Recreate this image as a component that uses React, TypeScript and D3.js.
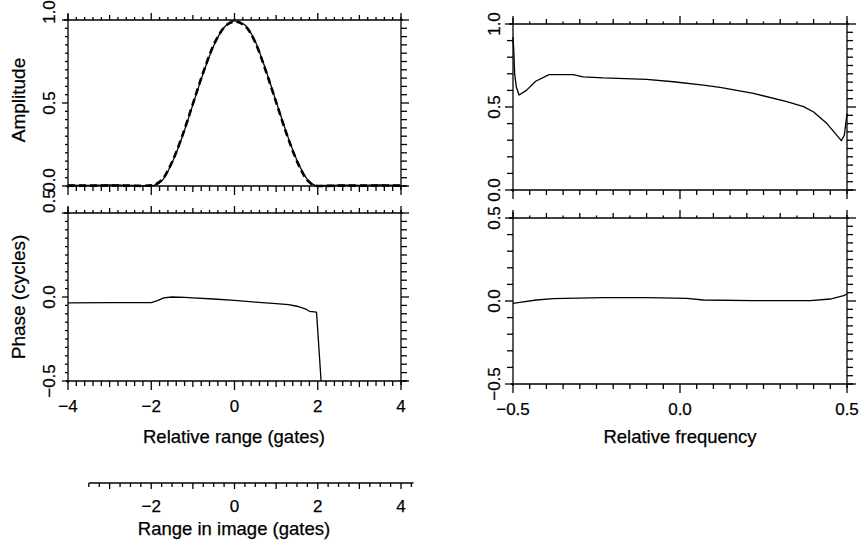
import React from "react";
import * as d3 from "d3";

// ---------- data ----------
const rangeX = [-4, -3.5, -3, -2.5, -2.2, -2, -1.75, -1.5, -1.25, -1, -0.75, -0.5, -0.25, 0, 0.25, 0.5, 0.75, 1, 1.25, 1.5, 1.75, 2, 2.25, 2.5, 3, 3.5, 4];
const ampSolid = [0.005, 0.004, 0.006, 0.004, 0.002, 0.002, 0.03, 0.14, 0.3, 0.49, 0.68, 0.845, 0.955, 0.995, 0.97, 0.87, 0.7, 0.51, 0.32, 0.155, 0.04, 0.002, 0.003, 0.005, 0.004, 0.006, 0.003];
const ampDashed = [0.002, 0.002, 0.003, 0.002, 0.001, 0.004, 0.035, 0.145, 0.305, 0.495, 0.685, 0.85, 0.955, 0.99, 0.965, 0.865, 0.695, 0.505, 0.315, 0.15, 0.035, 0.0, 0.001, 0.002, 0.002, 0.003, 0.002];

const phaseX = [-4, -3, -2.5, -2, -1.85, -1.7, -1.5, -1.2, -1, -0.5, 0, 0.5, 1, 1.3, 1.5, 1.7, 1.8, 1.97, 2.0, 2.08];
const phaseY = [-0.035, -0.034, -0.034, -0.034, -0.022, -0.005, 0.0, -0.002, -0.005, -0.012, -0.02, -0.03, -0.04, -0.045, -0.055, -0.07, -0.085, -0.09, -0.2, -0.5];

const freqX = [-0.5, -0.498, -0.495, -0.49, -0.482, -0.46, -0.432, -0.392, -0.32, -0.29, -0.23, -0.1, -0.02, 0.07, 0.12, 0.22, 0.32, 0.37, 0.4, 0.44, 0.483, 0.492, 0.5];
const specAmp = [0.92, 0.85, 0.7, 0.62, 0.572, 0.6, 0.655, 0.695, 0.695, 0.682, 0.675, 0.667, 0.652, 0.632, 0.618, 0.582, 0.532, 0.502, 0.47, 0.4, 0.297, 0.33, 0.46];

const freqPhX = [-0.5, -0.48, -0.43, -0.38, -0.23, -0.1, 0.02, 0.07, 0.22, 0.39, 0.45, 0.49, 0.5];
const specPhase = [-0.014, -0.008, 0.006, 0.014, 0.02, 0.02, 0.016, 0.006, 0.002, 0.002, 0.012, 0.032, 0.042];

const rangeTickLabels = [-4, -2, 0, 2, 4];
const imageTickLabels = [-2, 0, 2, 4];
const freqTickLabels = [-0.5, 0.0, 0.5];
const ampTickLabels = [0, 0.5, 1];
const phaseTickLabels = [-0.5, 0, 0.5];

// ---------- helpers ----------
const FONT = "'Liberation Sans', Arial, sans-serif";
type Rule = [number, number];
type TickSpec = { step: number; base: number; rules: Rule[] };
const isMult = (v: number, m: number) => Math.abs(v / m - Math.round(v / m)) < 1e-6;
const tickVals = (lo: number, hi: number, step: number) =>
  d3.range(Math.round(lo / step), Math.round(hi / step) + 1).map((i) => +(i * step).toFixed(6));
const tickLen = (v: number, s: TickSpec) => {
  let l = s.base;
  for (const [m, len] of s.rules) if (isMult(v, m)) l = Math.max(l, len);
  return l;
};

type Series = { xs: number[]; ys: number[]; width: number; dash?: string; smooth?: boolean };

function Panel(props: {
  x0: number; x1: number; y0: number; y1: number;
  xDom: [number, number]; yDom: [number, number];
  top: TickSpec; bottom: TickSpec; left: TickSpec; right: TickSpec;
  series: Series[];
  yLabels: number[]; yFmt: (v: number) => string;
  topShift?: number; topStart?: boolean; bottomShift?: number;
  xLabels?: number[]; xFmt?: (v: number) => string;
}) {
  const p = props;
  const x = d3.scaleLinear().domain(p.xDom).range([p.x0, p.x1]);
  const y = d3.scaleLinear().domain(p.yDom).range([p.y1, p.y0]);
  const xt = tickVals(p.xDom[0], p.xDom[1], p.top.step);
  const xb = tickVals(p.xDom[0], p.xDom[1], p.bottom.step);
  const yl = tickVals(p.yDom[0], p.yDom[1], p.left.step);
  const yr = tickVals(p.yDom[0], p.yDom[1], p.right.step);
  return (
    <g stroke="#000" fill="none" strokeWidth={1.3}>
      <line x1={p.x0 - 4} x2={p.x1 + 2} y1={p.y0} y2={p.y0} />
      <line x1={p.x0 - 2} x2={p.x1 + 6} y1={p.y1} y2={p.y1} />
      <line x1={p.x0} x2={p.x0} y1={p.y0 - 6} y2={p.y1 + 2} />
      <line x1={p.x1} x2={p.x1} y1={p.y0 - 3} y2={p.y1 + 4} />
      {xt.map((v) => (
        <line key={"t" + v} x1={x(v)} x2={x(v)} y1={p.y0} y2={p.y0 - tickLen(v, p.top)} />
      ))}
      {xb.map((v) => (
        <line key={"b" + v} x1={x(v)} x2={x(v)} y1={p.y1} y2={p.y1 + tickLen(v, p.bottom)} />
      ))}
      {yl.map((v) => (
        <line key={"l" + v} x1={p.x0} x2={p.x0 - tickLen(v, p.left)} y1={y(v)} y2={y(v)} />
      ))}
      {yr.map((v) => (
        <line key={"r" + v} x1={p.x1} x2={p.x1 + tickLen(v, p.right)} y1={y(v)} y2={y(v)} />
      ))}
      {p.series.map((s, i) => {
        const line = d3
          .line<[number, number]>()
          .x((d) => x(d[0]))
          .y((d) => y(d[1]))
          .curve(s.smooth ? d3.curveMonotoneX : d3.curveLinear);
        return (
          <path
            key={"s" + i}
            d={line(s.xs.map((xv, j) => [xv, s.ys[j]] as [number, number])) || ""}
            strokeWidth={s.width}
            strokeDasharray={s.dash}
            strokeLinejoin="round"
          />
        );
      })}
      <g stroke="#000" strokeWidth={0.25} fill="#000" fontFamily={FONT} fontSize={17}>
        {p.yLabels.map((v, i) => {
          const isTop = i === p.yLabels.length - 1;
          const isBottom = i === 0;
          let yy = y(v);
          if (isTop && p.topShift) yy -= p.topShift;
          if (isBottom && p.bottomShift) yy -= p.bottomShift;
          return (
            <text
              key={"yl" + v}
              transform={`translate(${p.x0 - 13},${yy}) rotate(-90)`}
              textAnchor={isTop && p.topStart ? "start" : "middle"}
            >
              {p.yFmt(v)}
            </text>
          );
        })}
        {(p.xLabels || []).map((v) => (
          <text key={"xl" + v} x={x(v)} y={p.y1 + 31} textAnchor="middle">
            {p.xFmt ? p.xFmt(v) : String(v)}
          </text>
        ))}
      </g>
    </g>
  );
}

const fmt1 = (v: number) => (v < 0 ? "\u2212" : "") + Math.abs(v).toFixed(1);
const fmt0 = (v: number) => (v < 0 ? "\u2212" : "") + Math.abs(v).toFixed(0);

const rangeTop: TickSpec = { step: 0.2, base: 3, rules: [[1, 5], [2, 7]] };
const rangeBottom: TickSpec = { step: 0.2, base: 5, rules: [[1, 6], [2, 9]] };
const ampLeft: TickSpec = { step: 0.05, base: 3, rules: [[0.5, 6]] };
const ampRight: TickSpec = { step: 0.05, base: 6, rules: [[0.5, 8]] };
const freqTop: TickSpec = { step: 0.05, base: 2.5, rules: [[0.1, 5], [0.5, 8]] };
const freqBottom: TickSpec = { step: 0.05, base: 5, rules: [[0.5, 9]] };
const specLeft: TickSpec = { step: 0.1, base: 6, rules: [[0.5, 8]] };
const specRight: TickSpec = { step: 0.05, base: 6, rules: [[0.5, 9]] };

export default function App() {
  const lx0 = 68, lx1 = 401, rx0 = 513, rx1 = 847;
  const imgScale = d3.scaleLinear().domain([-4, 4]).range([lx0, lx1]);
  const imgTicks = tickVals(-3.5, 4.25, 0.25);
  return (
    <div style={{ position: "absolute", left: 0, top: 0 }}>
      <svg width={864} height={546} style={{ display: "block", background: "#fff" }}>
        <Panel
          x0={lx0} x1={lx1} y0={20} y1={186} xDom={[-4, 4]} yDom={[0, 1]}
          top={rangeTop} bottom={rangeBottom} left={ampLeft} right={ampRight}
          series={[
            { xs: rangeX, ys: ampSolid, width: 1.3, smooth: true },
            { xs: rangeX, ys: ampDashed, width: 2.6, dash: "7,4", smooth: true },
          ]}
          yLabels={ampTickLabels} yFmt={fmt1} topShift={8} bottomShift={6}
        />
        <Panel
          x0={lx0} x1={lx1} y0={213} y1={381} xDom={[-4, 4]} yDom={[-0.5, 0.5]}
          top={rangeTop} bottom={rangeBottom} left={ampLeft} right={ampRight}
          series={[{ xs: phaseX, ys: phaseY, width: 1.3 }]}
          yLabels={phaseTickLabels} yFmt={fmt1} topStart
          xLabels={rangeTickLabels} xFmt={fmt0}
        />
        <Panel
          x0={rx0} x1={rx1} y0={24} y1={190} xDom={[-0.5, 0.5]} yDom={[0, 1]}
          top={freqTop} bottom={freqBottom} left={specLeft} right={specRight}
          series={[{ xs: freqX, ys: specAmp, width: 1.3 }]}
          yLabels={ampTickLabels} yFmt={fmt1}
        />
        <Panel
          x0={rx0} x1={rx1} y0={218} y1={384} xDom={[-0.5, 0.5]} yDom={[-0.5, 0.5]}
          top={freqTop} bottom={freqBottom} left={specLeft} right={specRight}
          series={[{ xs: freqPhX, ys: specPhase, width: 1.3 }]}
          yLabels={phaseTickLabels} yFmt={fmt1}
          xLabels={freqTickLabels} xFmt={fmt1}
        />
        {/* secondary axis: range in image */}
        <g stroke="#000" strokeWidth={1.3}>
          <line x1={imgScale(-3.5)} x2={imgScale(4.3)} y1={483} y2={483} />
          {imgTicks.map((v) => (
            <line key={v} x1={imgScale(v)} x2={imgScale(v)} y1={483} y2={483 + (isMult(v, 1) ? 6 : 4)} />
          ))}
        </g>
        <g fontFamily={FONT} fill="#000" stroke="#000" strokeWidth={0.25}>
          {imageTickLabels.map((v) => (
            <text key={v} x={imgScale(v)} y={512} fontSize={17} textAnchor="middle">
              {fmt0(v)}
            </text>
          ))}
          <text x={234} y={443} fontSize={18.5} textAnchor="middle">Relative range (gates)</text>
          <text x={680} y={443} fontSize={18.5} textAnchor="middle">Relative frequency</text>
          <text x={234} y={535} fontSize={18.5} textAnchor="middle">Range in image (gates)</text>
          <text transform="translate(25,100) rotate(-90)" fontSize={19} textAnchor="middle">Amplitude</text>
          <text transform="translate(25,297) rotate(-90)" fontSize={19} textAnchor="middle">Phase (cycles)</text>
        </g>
      </svg>
    </div>
  );
}
